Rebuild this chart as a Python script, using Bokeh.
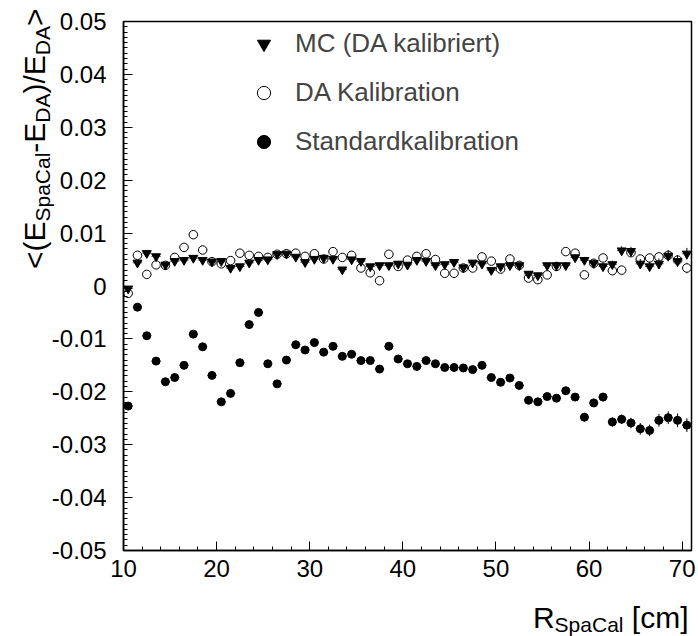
import numpy as np
from bokeh.plotting import figure
from bokeh.layouts import row, column
from bokeh.models import FixedTicker, Legend, LegendItem, ColumnDataSource, Range1d
from bokeh.core.properties import value
from bokeh.embed import file_html
from bokeh.resources import INLINE

# ---------------- data ----------------
r_cm = [10.5, 11.5, 12.5, 13.5, 14.5, 15.5, 16.5, 17.5, 18.5, 19.5,
        20.5, 21.5, 22.5, 23.5, 24.5, 25.5, 26.5, 27.5, 28.5, 29.5,
        30.5, 31.5, 32.5, 33.5, 34.5, 35.5, 36.5, 37.5, 38.5, 39.5,
        40.5, 41.5, 42.5, 43.5, 44.5, 45.5, 46.5, 47.5, 48.5, 49.5,
        50.5, 51.5, 52.5, 53.5, 54.5, 55.5, 56.5, 57.5, 58.5, 59.5,
        60.5, 61.5, 62.5, 63.5, 64.5, 65.5, 66.5, 67.5, 68.5, 69.5,
        70.5]

mc_da = [-0.0005, 0.0044, 0.0062, 0.0056, 0.0040, 0.0047, 0.0049, 0.0053, 0.0049, 0.0046,
         0.0047, 0.0034, 0.0037, 0.0044, 0.0049, 0.0050, 0.0060, 0.0061, 0.0055, 0.0045,
         0.0051, 0.0053, 0.0051, 0.0031, 0.0050, 0.0047, 0.0037, 0.0039, 0.0039, 0.0042,
         0.0040, 0.0049, 0.0047, 0.0039, 0.0041, 0.0045, 0.0035, 0.0044, 0.0042, 0.0030,
         0.0037, 0.0039, 0.0039, 0.0023, 0.0020, 0.0039, 0.0039, 0.0039, 0.0054, 0.0049,
         0.0043, 0.0037, 0.0041, 0.0067, 0.0066, 0.0042, 0.0037, 0.0042, 0.0057, 0.0047,
         0.0061]
mc_da_err = [0.0003, 0.0003, 0.0003, 0.0003, 0.0003, 0.0003, 0.0003, 0.0003, 0.0003, 0.0003,
             0.0003, 0.0003, 0.0003, 0.0003, 0.0003, 0.0003, 0.0003, 0.0003, 0.0003, 0.0003,
             0.0003, 0.0003, 0.0003, 0.0003, 0.0003, 0.0003, 0.0003, 0.0003, 0.0004, 0.0004,
             0.0004, 0.0004, 0.0004, 0.0004, 0.0004, 0.0004, 0.0004, 0.0004, 0.0004, 0.0004,
             0.0005, 0.0005, 0.0005, 0.0005, 0.0005, 0.0005, 0.0006, 0.0006, 0.0006, 0.0006,
             0.0007, 0.0007, 0.0007, 0.0008, 0.0008, 0.0009, 0.0009, 0.0010, 0.0010, 0.0011,
             0.0011]

da_kal = [-0.0014, 0.0058, 0.0022, 0.0040, 0.0039, 0.0054, 0.0073, 0.0097, 0.0068, 0.0046,
          0.0042, 0.0048, 0.0062, 0.0058, 0.0056, 0.0054, 0.0060, 0.0061, 0.0062, 0.0056,
          0.0061, 0.0051, 0.0065, 0.0054, 0.0058, 0.0034, 0.0025, 0.0010, 0.0060, 0.0037,
          0.0049, 0.0056, 0.0061, 0.0050, 0.0024, 0.0024, 0.0034, 0.0034, 0.0055, 0.0047,
          0.0032, 0.0051, 0.0039, 0.0015, 0.0012, 0.0021, 0.0037, 0.0065, 0.0062, 0.0021,
          0.0043, 0.0053, 0.0029, 0.0030, 0.0063, 0.0051, 0.0053, 0.0055, 0.0058, 0.0049,
          0.0034]
da_kal_err = [0.0003, 0.0003, 0.0003, 0.0003, 0.0003, 0.0003, 0.0003, 0.0003, 0.0003, 0.0003,
              0.0003, 0.0003, 0.0003, 0.0003, 0.0003, 0.0003, 0.0003, 0.0003, 0.0003, 0.0003,
              0.0003, 0.0003, 0.0003, 0.0003, 0.0003, 0.0003, 0.0003, 0.0003, 0.0003, 0.0003,
              0.0004, 0.0004, 0.0004, 0.0004, 0.0004, 0.0004, 0.0004, 0.0004, 0.0004, 0.0004,
              0.0004, 0.0004, 0.0005, 0.0005, 0.0005, 0.0005, 0.0005, 0.0005, 0.0005, 0.0006,
              0.0006, 0.0006, 0.0006, 0.0007, 0.0007, 0.0007, 0.0008, 0.0008, 0.0009, 0.0009,
              0.0010]

std_kal = [-0.0227, -0.0040, -0.0094, -0.0142, -0.0181, -0.0173, -0.0150, -0.0091, -0.0115, -0.0169,
           -0.0219, -0.0203, -0.0145, -0.0073, -0.0050, -0.0147, -0.0185, -0.0140, -0.0111, -0.0121,
           -0.0107, -0.0125, -0.0114, -0.0133, -0.0129, -0.0141, -0.0141, -0.0157, -0.0114, -0.0138,
           -0.0147, -0.0152, -0.0141, -0.0147, -0.0154, -0.0154, -0.0155, -0.0158, -0.0150, -0.0173,
           -0.0182, -0.0174, -0.0188, -0.0216, -0.0219, -0.0209, -0.0212, -0.0198, -0.0210, -0.0248,
           -0.0221, -0.0210, -0.0257, -0.0252, -0.0259, -0.0270, -0.0273, -0.0254, -0.0249, -0.0254,
           -0.0263]
std_kal_err = [0.0003, 0.0003, 0.0003, 0.0003, 0.0003, 0.0003, 0.0003, 0.0003, 0.0003, 0.0003,
               0.0003, 0.0003, 0.0003, 0.0003, 0.0003, 0.0003, 0.0003, 0.0003, 0.0003, 0.0003,
               0.0003, 0.0003, 0.0003, 0.0003, 0.0003, 0.0003, 0.0003, 0.0003, 0.0004, 0.0004,
               0.0004, 0.0004, 0.0004, 0.0004, 0.0004, 0.0004, 0.0004, 0.0004, 0.0004, 0.0005,
               0.0005, 0.0005, 0.0005, 0.0006, 0.0006, 0.0006, 0.0006, 0.0007, 0.0007, 0.0008,
               0.0008, 0.0008, 0.0009, 0.0009, 0.0010, 0.0011, 0.0011, 0.0012, 0.0012, 0.0013,
               0.0013]
r_half_width = 0.5

series_names = ["MC (DA kalibriert)", "DA Kalibration", "Standardkalibration"]

x_ticks = [10, 20, 30, 40, 50, 60, 70]
x_tick_labels = ["10", "20", "30", "40", "50", "60", "70"]
y_ticks = [-0.05, -0.04, -0.03, -0.02, -0.01, 0.0, 0.01, 0.02, 0.03, 0.04, 0.05]
y_tick_labels = ["-0.05", "-0.04", "-0.03", "-0.02", "-0.01", "0",
                 "0.01", "0.02", "0.03", "0.04", "0.05"]

# ---------------- layout (page px) ----------------
W, H = 698, 636
FL, FR, FT, FB = 123, 691, 21, 550   # plot frame edges on the page
LW = 108                              # width of left strip (y labels + title)
MH = 591                              # height of the top row
X0, X1, Y0, Y1 = 10, 71, -0.05, 0.05
FONT = "Liberation Sans"
TICK_SIZE = 24
LEG_SIZE = 26
TITLE_SIZE = 30
SUB_SIZE = 21
ppu = (FB - FT) / (Y1 - Y0)           # px per y unit
ppx = (FR - FL) / (X1 - X0)           # px per x unit

def strip(width, height, xr, yr):
    f = figure(width=width, height=height, x_range=xr, y_range=yr,
               output_backend="svg", toolbar_location=None, min_border=0,
               x_axis_location=None, y_axis_location=None,
               outline_line_color=None, background_fill_color="white",
               border_fill_color="white")
    f.grid.visible = False
    if "frame_align" in f.properties():
        f.frame_align = False
    return f

# ---------------- main plot ----------------
p = figure(width=W - LW, height=MH, x_range=(X0, X1), y_range=(Y0, Y1),
           output_backend="svg", toolbar_location=None,
           min_border_left=FL - LW, min_border_right=W - FR,
           min_border_top=FT, min_border_bottom=MH - FB,
           background_fill_color="white", border_fill_color="white",
           outline_line_color="black", outline_line_width=1.5)
p.grid.visible = False
if "frame_align" in p.properties():
    p.frame_align = False

for ax in (p.xaxis[0], p.yaxis[0]):
    ax.axis_line_color = "black"
    ax.axis_line_width = 1.5
    ax.major_tick_in = 9
    ax.major_tick_out = 0
    ax.minor_tick_in = 4
    ax.minor_tick_out = 0
    ax.major_tick_line_color = "black"
    ax.minor_tick_line_color = "black"

p.xaxis.ticker = FixedTicker(ticks=x_ticks, minor_ticks=list(range(10, 72, 2)))
p.xaxis.major_label_overrides = dict(zip(x_ticks, x_tick_labels))
p.xaxis.major_label_text_font = FONT
p.xaxis.major_label_text_font_size = f"{TICK_SIZE}px"
p.xaxis.major_label_text_color = "black"
p.xaxis.major_label_standoff = 9

p.yaxis.ticker = FixedTicker(ticks=y_ticks,
                             minor_ticks=[round(v, 4) for v in np.arange(-0.05, 0.0505, 0.001)])
# y tick labels are drawn in the left strip (same value scale)
p.yaxis.major_label_text_color = None
p.yaxis.major_label_text_alpha = 0
p.yaxis.major_label_text_font_size = "1px"
p.yaxis.major_label_standoff = 0

def add_series(y, err, marker, size, filled):
    src = ColumnDataSource(dict(
        x=r_cm, y=y,
        ylo=[a - e for a, e in zip(y, err)], yhi=[a + e for a, e in zip(y, err)],
        xlo=[a - r_half_width for a in r_cm], xhi=[a + r_half_width for a in r_cm]))
    p.segment(x0="x", y0="ylo", x1="x", y1="yhi", source=src, line_color="black", line_width=1)
    p.segment(x0="xlo", y0="y", x1="xhi", y1="y", source=src, line_color="#555555", line_width=1)
    return p.scatter(x="x", y="y", source=src, marker=marker, size=size,
                     line_color="black", line_width=1,
                     fill_color="black" if filled else "white")

r_da = add_series(da_kal, da_kal_err, "circle", 8.5, False)
r_mc = add_series(mc_da, mc_da_err, "inverted_triangle", 9, True)
r_std = add_series(std_kal, std_kal_err, "circle", 8, True)

legend = Legend(items=[LegendItem(label=series_names[0], renderers=[r_mc]),
                       LegendItem(label=series_names[1], renderers=[r_da]),
                       LegendItem(label=series_names[2], renderers=[r_std])],
                location=(124, 392), orientation="vertical",
                glyph_width=33, glyph_height=33, label_height=26, spacing=16,
                padding=0, margin=0, border_line_alpha=0, background_fill_alpha=0,
                label_text_font=FONT, label_text_font_size=f"{LEG_SIZE}px",
                label_standoff=15)
p.add_layout(legend)

CW = {'<': 0.584, '(': 0.333, ')': 0.333, 'E': 0.667, '-': 0.333, '/': 0.278, '>': 0.584,
      'S': 0.667, 'p': 0.556, 'a': 0.556, 'C': 0.722, 'l': 0.222, 'D': 0.722, 'A': 0.667,
      'R': 0.722, ' ': 0.278, '[': 0.278, ']': 0.278, 'c': 0.5, 'm': 0.833}

def tw(s, size):
    return sum(CW[c] for c in s) * size

def txt(fig, xs, ys, texts, size, align, baseline, angle=0.0):
    fig.text(x=xs, y=ys, text=texts, angle=angle,
             text_font=value(FONT), text_font_size=value(f"{size}px"), text_color="black",
             text_align=value(align), text_baseline=value(baseline))

# ---------------- left strip: y tick labels + y title ----------------
left = strip(LW, MH, Range1d(0, LW), Range1d(Y1 - (MH - FT) / ppu, Y1 + FT / ppu))

def py(cy):                             # page px (top-down) -> y value
    return Y1 - (cy - FT) / ppu

txt(left, [FL - 17] * len(y_ticks), y_ticks, y_tick_labels, TICK_SIZE, "right", "middle")

y_pieces = [("<(E", False), ("SpaCal", True), ("-E", False), ("DA", True),
            (")/E", False), ("DA", True), (">", False)]
y_top = 8
y_base_x = 34
total = sum(tw(s, SUB_SIZE if sub else TITLE_SIZE) for s, sub in y_pieces)
cy = y_top + total
for s, sub in y_pieces:
    size = SUB_SIZE if sub else TITLE_SIZE
    txt(left, [y_base_x + (8 if sub else 0)], [py(cy)], [s], size, "left", "alphabetic", np.pi / 2)
    cy -= tw(s, size)

# ---------------- bottom strip: x title ----------------
bottom = strip(W, H - MH, Range1d(X0 - FL / ppx, X0 + (W - FL) / ppx), Range1d(H, MH))

def px(cx):                             # page px -> x value
    return X0 + (cx - FL) / ppx

x_base = 617
x_right = 688
sub_right = x_right - tw("[cm]", TITLE_SIZE) - tw(" ", TITLE_SIZE)
txt(bottom, [px(x_right)], [x_base], ["[cm]"], TITLE_SIZE, "right", "alphabetic")
txt(bottom, [px(sub_right)], [x_base + 7], ["SpaCal"], SUB_SIZE, "right", "alphabetic")
txt(bottom, [px(sub_right - tw("SpaCal", SUB_SIZE))], [x_base], ["R"], TITLE_SIZE, "right", "alphabetic")

layout = column(row(left, p, spacing=0), bottom, spacing=0)
open("out.html", "w").write(file_html(layout, INLINE))
